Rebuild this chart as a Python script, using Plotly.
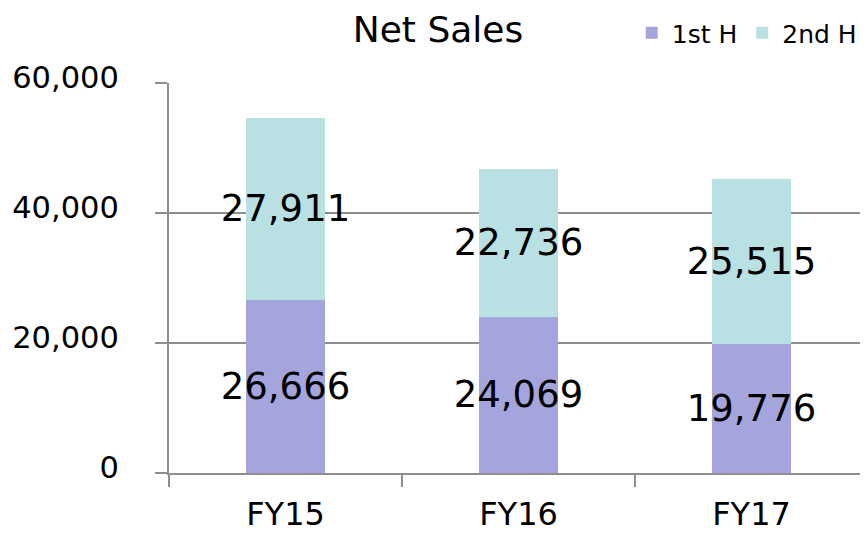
import plotly.graph_objects as go

categories = ["FY15", "FY16", "FY17"]
first_half = [26666, 24069, 19776]
second_half = [27911, 22736, 25515]
y_ticks = [0, 20000, 40000, 60000]
y_tick_labels = ["0", "20,000", "40,000", "60,000"]

FONT = "DejaVu Sans"
GRID = "#8e8e8e"

fig = go.Figure()
for name, vals, color in [("1st H", first_half, "#a5a5de"), ("2nd H", second_half, "#b9e0e2")]:
    fig.add_trace(go.Bar(
        name=name, x=categories, y=vals,
        marker=dict(color=color, line=dict(width=0)),
        text=[f"{v:,}" for v in vals],
        textposition="inside", insidetextanchor="middle",
        constraintext="none", textangle=0,
        textfont=dict(family=FONT, size=37, color="black"),
        width=0.335,
        cliponaxis=False,
    ))

fig.update_layout(
    barmode="stack",
    width=860, height=525,
    margin=dict(l=161, r=0, t=75, b=60, autoexpand=False),
    paper_bgcolor="white", plot_bgcolor="white",
    font=dict(family=FONT, color="black"),
    title=dict(text="Net Sales", x=0.5, xref="container", xanchor="center",
               y=0.96, yref="container", yanchor="middle",
               font=dict(family=FONT, size=36, color="black")),
    legend=dict(orientation="h", x=0.662, xanchor="left", y=1.128, yanchor="middle",
                font=dict(family=FONT, size=25, color="black"),
                itemwidth=30, traceorder="normal", bgcolor="rgba(0,0,0,0)"),
    xaxis=dict(type="category", showline=True, linecolor=GRID, linewidth=2,
               ticks="outside", tickson="boundaries", ticklen=12, tickcolor=GRID, tickwidth=2,
               ticklabelstandoff=12,
               tickfont=dict(family=FONT, size=32, color="black"), showgrid=False),
    yaxis=dict(range=[0, 60000], tickvals=y_ticks, ticktext=y_tick_labels,
               showline=True, linecolor=GRID, linewidth=2,
               showgrid=True, gridcolor=GRID, gridwidth=2, zeroline=False,
               ticks="outside", ticklen=12, tickcolor=GRID, tickwidth=2,
               ticklabelstandoff=30, ticklabelshift=-6,
               tickfont=dict(family=FONT, size=30.5, color="black")),
)

fig.write_html("out.html")
